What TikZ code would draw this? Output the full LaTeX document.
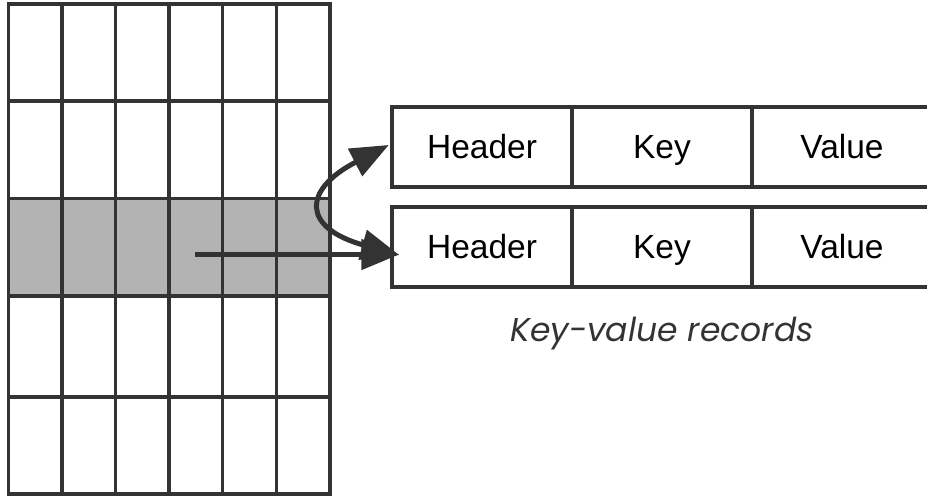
\documentclass[tikz,border=0pt]{standalone}
\usepackage{fontspec}
\setmainfont{Liberation Sans}
\newfontfamily\capfont{Poppins}
\usetikzlibrary{arrows.meta,calc}
\definecolor{ink}{HTML}{333333}
\definecolor{rowgray}{HTML}{B3B3B3}
\tikzset{
  gridline/.style={draw=ink, line width=3.3pt},
  cell/.style={draw=ink, line width=4.5pt, minimum width=180pt, minimum height=80pt,
    inner sep=0pt, text height=24pt, text depth=0pt,
    font=\fontsize{33.5}{40}\selectfont, text=black},
  bigtip/.tip={Triangle[length=38pt,width=30pt]},
  link/.style={draw=ink, line width=5pt},
}
\begin{document}
\begin{tikzpicture}[x=1pt,y=-1pt]
\begin{scope}
  \clip (0,0) rectangle (927,497);
  \fill[white] (0,0) rectangle (927,497);
  % page table: six columns, five rows, the middle row selected
  \fill[rowgray] (8.3,198.5) rectangle (330,296);
  \foreach \x in {61.9,115.5,169.1,222.7,276.3}
    \draw[gridline] (\x,4) -- (\x,494);
  \foreach \y in {101,198.5,296,397}
    \draw[gridline] (8.3,\y) -- (330,\y);
  \draw[gridline] (8.3,4) rectangle (330,494);
  % two key-value records
  \node[cell] (h1) at (482,147) {Header};
  \node[cell] (k1) at (662,147) {Key};
  \node[cell] (v1) at (842,147) {Value};
  \node[cell] (h2) at (482,247) {Header};
  \node[cell] (k2) at (662,247) {Key};
  \node[cell] (v2) at (842,247) {Value};
  \node[anchor=base, inner sep=0pt, font=\capfont\itshape\fontsize{33}{40}\selectfont, text=ink]
    (cap) at (662,341.7) {Key-value records};
  % connectors
  \coordinate (src) at (195,254.5);
  \coordinate (intop) at ($(h1.west)+(-1,-2)$);
  \coordinate (inlow) at ($(h2.west)+(9.5,8)$);
  \draw[link, -{bigtip}] (src) -- (src -| inlow);
  \draw[link, {bigtip}-{bigtip}] (inlow) .. controls (302,228) and (302,190) .. (intop);
\end{scope}
\pgfresetboundingbox
\path[use as bounding box] (0,0) rectangle (927,497);
\end{tikzpicture}
\end{document}
